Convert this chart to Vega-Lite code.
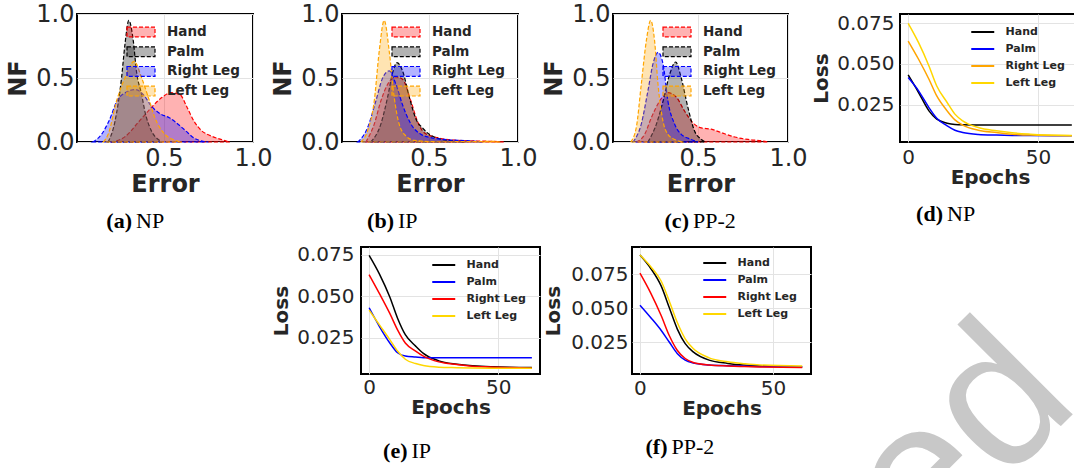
{
  "$schema": "https://vega.github.io/schema/vega-lite/v6.json",
  "background": "white",
  "padding": {"left": 5, "top": 1, "right": 0, "bottom": 0},
  "datasets": {
    "da": [
      {"part": "Hand", "err": 0.20, "nf": 0}, {"part": "Hand", "err": 0.28, "nf": 0.04}, {"part": "Hand", "err": 0.36, "nf": 0.16}, {"part": "Hand", "err": 0.43, "nf": 0.27}, {"part": "Hand", "err": 0.49, "nf": 0.35}, {"part": "Hand", "err": 0.54, "nf": 0.385}, {"part": "Hand", "err": 0.59, "nf": 0.37}, {"part": "Hand", "err": 0.63, "nf": 0.27}, {"part": "Hand", "err": 0.67, "nf": 0.16}, {"part": "Hand", "err": 0.71, "nf": 0.09}, {"part": "Hand", "err": 0.76, "nf": 0.05}, {"part": "Hand", "err": 0.82, "nf": 0.02}, {"part": "Hand", "err": 0.87, "nf": 0},
      {"part": "Palm", "err": 0.187, "nf": 0}, {"part": "Palm", "err": 0.225, "nf": 0.16}, {"part": "Palm", "err": 0.262, "nf": 0.5}, {"part": "Palm", "err": 0.281, "nf": 0.76}, {"part": "Palm", "err": 0.303, "nf": 0.95}, {"part": "Palm", "err": 0.328, "nf": 0.79}, {"part": "Palm", "err": 0.346, "nf": 0.55}, {"part": "Palm", "err": 0.375, "nf": 0.37}, {"part": "Palm", "err": 0.393, "nf": 0.24}, {"part": "Palm", "err": 0.43, "nf": 0.086}, {"part": "Palm", "err": 0.468, "nf": 0.02}, {"part": "Palm", "err": 0.49, "nf": 0},
      {"part": "Right Leg", "err": 0.10, "nf": 0}, {"part": "Right Leg", "err": 0.15, "nf": 0.06}, {"part": "Right Leg", "err": 0.19, "nf": 0.16}, {"part": "Right Leg", "err": 0.24, "nf": 0.33}, {"part": "Right Leg", "err": 0.29, "nf": 0.39}, {"part": "Right Leg", "err": 0.34, "nf": 0.41}, {"part": "Right Leg", "err": 0.39, "nf": 0.36}, {"part": "Right Leg", "err": 0.43, "nf": 0.28}, {"part": "Right Leg", "err": 0.48, "nf": 0.22}, {"part": "Right Leg", "err": 0.53, "nf": 0.19}, {"part": "Right Leg", "err": 0.57, "nf": 0.15}, {"part": "Right Leg", "err": 0.62, "nf": 0.09}, {"part": "Right Leg", "err": 0.67, "nf": 0.03}, {"part": "Right Leg", "err": 0.72, "nf": 0.005}, {"part": "Right Leg", "err": 0.75, "nf": 0},
      {"part": "Left Leg", "err": 0.16, "nf": 0}, {"part": "Left Leg", "err": 0.187, "nf": 0.06}, {"part": "Left Leg", "err": 0.234, "nf": 0.32}, {"part": "Left Leg", "err": 0.281, "nf": 0.5}, {"part": "Left Leg", "err": 0.333, "nf": 0.63}, {"part": "Left Leg", "err": 0.375, "nf": 0.5}, {"part": "Left Leg", "err": 0.412, "nf": 0.35}, {"part": "Left Leg", "err": 0.449, "nf": 0.19}, {"part": "Left Leg", "err": 0.506, "nf": 0.06}, {"part": "Left Leg", "err": 0.562, "nf": 0.013}, {"part": "Left Leg", "err": 0.60, "nf": 0}
    ],
    "db": [
      {"part": "Hand", "err": 0.146, "nf": 0}, {"part": "Hand", "err": 0.193, "nf": 0.14}, {"part": "Hand", "err": 0.23, "nf": 0.32}, {"part": "Hand", "err": 0.268, "nf": 0.45}, {"part": "Hand", "err": 0.315, "nf": 0.51}, {"part": "Hand", "err": 0.352, "nf": 0.49}, {"part": "Hand", "err": 0.399, "nf": 0.32}, {"part": "Hand", "err": 0.436, "nf": 0.16}, {"part": "Hand", "err": 0.474, "nf": 0.073}, {"part": "Hand", "err": 0.549, "nf": 0.034}, {"part": "Hand", "err": 0.661, "nf": 0.013}, {"part": "Hand", "err": 0.773, "nf": 0.008}, {"part": "Hand", "err": 0.886, "nf": 0.003}, {"part": "Hand", "err": 0.92, "nf": 0},
      {"part": "Palm", "err": 0.174, "nf": 0}, {"part": "Palm", "err": 0.23, "nf": 0.14}, {"part": "Palm", "err": 0.268, "nf": 0.35}, {"part": "Palm", "err": 0.296, "nf": 0.54}, {"part": "Palm", "err": 0.32, "nf": 0.62}, {"part": "Palm", "err": 0.352, "nf": 0.555}, {"part": "Palm", "err": 0.39, "nf": 0.35}, {"part": "Palm", "err": 0.427, "nf": 0.18}, {"part": "Palm", "err": 0.464, "nf": 0.11}, {"part": "Palm", "err": 0.502, "nf": 0.06}, {"part": "Palm", "err": 0.549, "nf": 0.029}, {"part": "Palm", "err": 0.642, "nf": 0.008}, {"part": "Palm", "err": 0.70, "nf": 0},
      {"part": "Right Leg", "err": 0.10, "nf": 0}, {"part": "Right Leg", "err": 0.155, "nf": 0.11}, {"part": "Right Leg", "err": 0.202, "nf": 0.32}, {"part": "Right Leg", "err": 0.24, "nf": 0.5}, {"part": "Right Leg", "err": 0.277, "nf": 0.555}, {"part": "Right Leg", "err": 0.315, "nf": 0.45}, {"part": "Right Leg", "err": 0.352, "nf": 0.29}, {"part": "Right Leg", "err": 0.399, "nf": 0.14}, {"part": "Right Leg", "err": 0.455, "nf": 0.06}, {"part": "Right Leg", "err": 0.511, "nf": 0.034}, {"part": "Right Leg", "err": 0.586, "nf": 0.02}, {"part": "Right Leg", "err": 0.736, "nf": 0.008}, {"part": "Right Leg", "err": 0.80, "nf": 0},
      {"part": "Left Leg", "err": 0.118, "nf": 0}, {"part": "Left Leg", "err": 0.155, "nf": 0.086}, {"part": "Left Leg", "err": 0.193, "nf": 0.32}, {"part": "Left Leg", "err": 0.221, "nf": 0.71}, {"part": "Left Leg", "err": 0.249, "nf": 0.95}, {"part": "Left Leg", "err": 0.277, "nf": 0.71}, {"part": "Left Leg", "err": 0.305, "nf": 0.35}, {"part": "Left Leg", "err": 0.333, "nf": 0.14}, {"part": "Left Leg", "err": 0.371, "nf": 0.047}, {"part": "Left Leg", "err": 0.418, "nf": 0.013}, {"part": "Left Leg", "err": 0.55, "nf": 0.002}, {"part": "Left Leg", "err": 0.80, "nf": 0.003}, {"part": "Left Leg", "err": 0.85, "nf": 0.006}, {"part": "Left Leg", "err": 0.90, "nf": 0}
    ],
    "dc": [
      {"part": "Hand", "err": 0.157, "nf": 0}, {"part": "Hand", "err": 0.204, "nf": 0.06}, {"part": "Hand", "err": 0.241, "nf": 0.19}, {"part": "Hand", "err": 0.287, "nf": 0.32}, {"part": "Hand", "err": 0.333, "nf": 0.385}, {"part": "Hand", "err": 0.38, "nf": 0.35}, {"part": "Hand", "err": 0.426, "nf": 0.24}, {"part": "Hand", "err": 0.472, "nf": 0.15}, {"part": "Hand", "err": 0.519, "nf": 0.11}, {"part": "Hand", "err": 0.574, "nf": 0.10}, {"part": "Hand", "err": 0.63, "nf": 0.073}, {"part": "Hand", "err": 0.704, "nf": 0.039}, {"part": "Hand", "err": 0.778, "nf": 0.02}, {"part": "Hand", "err": 0.861, "nf": 0.008}, {"part": "Hand", "err": 0.89, "nf": 0},
      {"part": "Palm", "err": 0.222, "nf": 0}, {"part": "Palm", "err": 0.269, "nf": 0.14}, {"part": "Palm", "err": 0.306, "nf": 0.32}, {"part": "Palm", "err": 0.343, "nf": 0.53}, {"part": "Palm", "err": 0.376, "nf": 0.625}, {"part": "Palm", "err": 0.407, "nf": 0.5}, {"part": "Palm", "err": 0.444, "nf": 0.27}, {"part": "Palm", "err": 0.481, "nf": 0.086}, {"part": "Palm", "err": 0.519, "nf": 0.02}, {"part": "Palm", "err": 0.54, "nf": 0},
      {"part": "Right Leg", "err": 0.139, "nf": 0}, {"part": "Right Leg", "err": 0.185, "nf": 0.14}, {"part": "Right Leg", "err": 0.222, "nf": 0.4}, {"part": "Right Leg", "err": 0.25, "nf": 0.61}, {"part": "Right Leg", "err": 0.278, "nf": 0.7}, {"part": "Right Leg", "err": 0.306, "nf": 0.61}, {"part": "Right Leg", "err": 0.333, "nf": 0.32}, {"part": "Right Leg", "err": 0.37, "nf": 0.14}, {"part": "Right Leg", "err": 0.407, "nf": 0.06}, {"part": "Right Leg", "err": 0.463, "nf": 0.02}, {"part": "Right Leg", "err": 0.50, "nf": 0},
      {"part": "Left Leg", "err": 0.126, "nf": 0}, {"part": "Left Leg", "err": 0.157, "nf": 0.11}, {"part": "Left Leg", "err": 0.185, "nf": 0.45}, {"part": "Left Leg", "err": 0.213, "nf": 0.79}, {"part": "Left Leg", "err": 0.237, "nf": 0.95}, {"part": "Left Leg", "err": 0.259, "nf": 0.79}, {"part": "Left Leg", "err": 0.278, "nf": 0.45}, {"part": "Left Leg", "err": 0.306, "nf": 0.16}, {"part": "Left Leg", "err": 0.333, "nf": 0.06}, {"part": "Left Leg", "err": 0.37, "nf": 0.02}, {"part": "Left Leg", "err": 0.42, "nf": 0}
    ],
    "ld": [
      {"part": "Hand", "ep": 0, "loss": 0.0433}, {"part": "Hand", "ep": 4, "loss": 0.0326}, {"part": "Hand", "ep": 8, "loss": 0.0214}, {"part": "Hand", "ep": 11, "loss": 0.0163}, {"part": "Hand", "ep": 15, "loss": 0.0139}, {"part": "Hand", "ep": 18, "loss": 0.0131}, {"part": "Hand", "ep": 21, "loss": 0.0129}, {"part": "Hand", "ep": 27, "loss": 0.0128}, {"part": "Hand", "ep": 34, "loss": 0.0127}, {"part": "Hand", "ep": 40, "loss": 0.0127}, {"part": "Hand", "ep": 47, "loss": 0.0127}, {"part": "Hand", "ep": 63, "loss": 0.0127},
      {"part": "Palm", "ep": 0, "loss": 0.0417}, {"part": "Palm", "ep": 4, "loss": 0.0336}, {"part": "Palm", "ep": 8, "loss": 0.0234}, {"part": "Palm", "ep": 11, "loss": 0.0169}, {"part": "Palm", "ep": 15, "loss": 0.0123}, {"part": "Palm", "ep": 18, "loss": 0.0096}, {"part": "Palm", "ep": 21, "loss": 0.0082}, {"part": "Palm", "ep": 27, "loss": 0.0070}, {"part": "Palm", "ep": 34, "loss": 0.0066}, {"part": "Palm", "ep": 40, "loss": 0.0064}, {"part": "Palm", "ep": 47, "loss": 0.0063}, {"part": "Palm", "ep": 63, "loss": 0.0062},
      {"part": "Right Leg", "ep": 0, "loss": 0.0640}, {"part": "Right Leg", "ep": 4, "loss": 0.0529}, {"part": "Right Leg", "ep": 8, "loss": 0.0407}, {"part": "Right Leg", "ep": 11, "loss": 0.0305}, {"part": "Right Leg", "ep": 15, "loss": 0.0214}, {"part": "Right Leg", "ep": 18, "loss": 0.0159}, {"part": "Right Leg", "ep": 21, "loss": 0.0127}, {"part": "Right Leg", "ep": 27, "loss": 0.0096}, {"part": "Right Leg", "ep": 34, "loss": 0.0082}, {"part": "Right Leg", "ep": 40, "loss": 0.0072}, {"part": "Right Leg", "ep": 47, "loss": 0.0066}, {"part": "Right Leg", "ep": 63, "loss": 0.0062},
      {"part": "Left Leg", "ep": 0, "loss": 0.0748}, {"part": "Left Leg", "ep": 4, "loss": 0.0630}, {"part": "Left Leg", "ep": 8, "loss": 0.0488}, {"part": "Left Leg", "ep": 11, "loss": 0.0366}, {"part": "Left Leg", "ep": 15, "loss": 0.0265}, {"part": "Left Leg", "ep": 18, "loss": 0.0194}, {"part": "Left Leg", "ep": 21, "loss": 0.0153}, {"part": "Left Leg", "ep": 27, "loss": 0.0112}, {"part": "Left Leg", "ep": 34, "loss": 0.0092}, {"part": "Left Leg", "ep": 40, "loss": 0.0080}, {"part": "Left Leg", "ep": 47, "loss": 0.0072}, {"part": "Left Leg", "ep": 63, "loss": 0.0064}
    ],
    "le": [
      {"part": "Hand", "ep": 0, "loss": 0.0748}, {"part": "Hand", "ep": 4, "loss": 0.0635}, {"part": "Hand", "ep": 8, "loss": 0.0497}, {"part": "Hand", "ep": 11, "loss": 0.0369}, {"part": "Hand", "ep": 14, "loss": 0.0270}, {"part": "Hand", "ep": 18, "loss": 0.0201}, {"part": "Hand", "ep": 21, "loss": 0.0157}, {"part": "Hand", "ep": 27, "loss": 0.0112}, {"part": "Hand", "ep": 34, "loss": 0.0092}, {"part": "Hand", "ep": 40, "loss": 0.0082}, {"part": "Hand", "ep": 47, "loss": 0.0076}, {"part": "Hand", "ep": 63, "loss": 0.0072},
      {"part": "Palm", "ep": 0, "loss": 0.0432}, {"part": "Palm", "ep": 4, "loss": 0.0319}, {"part": "Palm", "ep": 8, "loss": 0.0220}, {"part": "Palm", "ep": 11, "loss": 0.0161}, {"part": "Palm", "ep": 14, "loss": 0.0141}, {"part": "Palm", "ep": 18, "loss": 0.0135}, {"part": "Palm", "ep": 21, "loss": 0.0131}, {"part": "Palm", "ep": 27, "loss": 0.0131}, {"part": "Palm", "ep": 34, "loss": 0.0131}, {"part": "Palm", "ep": 40, "loss": 0.0131}, {"part": "Palm", "ep": 47, "loss": 0.0131}, {"part": "Palm", "ep": 63, "loss": 0.0131},
      {"part": "Right Leg", "ep": 0, "loss": 0.0631}, {"part": "Right Leg", "ep": 4, "loss": 0.0517}, {"part": "Right Leg", "ep": 8, "loss": 0.0398}, {"part": "Right Leg", "ep": 11, "loss": 0.0299}, {"part": "Right Leg", "ep": 14, "loss": 0.0220}, {"part": "Right Leg", "ep": 18, "loss": 0.0171}, {"part": "Right Leg", "ep": 21, "loss": 0.0141}, {"part": "Right Leg", "ep": 27, "loss": 0.0106}, {"part": "Right Leg", "ep": 34, "loss": 0.0090}, {"part": "Right Leg", "ep": 40, "loss": 0.0080}, {"part": "Right Leg", "ep": 47, "loss": 0.0075}, {"part": "Right Leg", "ep": 63, "loss": 0.0068},
      {"part": "Left Leg", "ep": 0, "loss": 0.0418}, {"part": "Left Leg", "ep": 4, "loss": 0.0329}, {"part": "Left Leg", "ep": 8, "loss": 0.0240}, {"part": "Left Leg", "ep": 11, "loss": 0.0171}, {"part": "Left Leg", "ep": 14, "loss": 0.0122}, {"part": "Left Leg", "ep": 18, "loss": 0.0096}, {"part": "Left Leg", "ep": 21, "loss": 0.0084}, {"part": "Left Leg", "ep": 27, "loss": 0.0074}, {"part": "Left Leg", "ep": 34, "loss": 0.0071}, {"part": "Left Leg", "ep": 40, "loss": 0.0069}, {"part": "Left Leg", "ep": 47, "loss": 0.0068}, {"part": "Left Leg", "ep": 63, "loss": 0.0068}
    ],
    "lf": [
      {"part": "Hand", "ep": 0, "loss": 0.0890}, {"part": "Hand", "ep": 4, "loss": 0.0793}, {"part": "Hand", "ep": 8, "loss": 0.0661}, {"part": "Hand", "ep": 11, "loss": 0.0504}, {"part": "Hand", "ep": 14, "loss": 0.0347}, {"part": "Hand", "ep": 17, "loss": 0.0238}, {"part": "Hand", "ep": 20, "loss": 0.0178}, {"part": "Hand", "ep": 26, "loss": 0.0117}, {"part": "Hand", "ep": 33, "loss": 0.0093}, {"part": "Hand", "ep": 39, "loss": 0.0081}, {"part": "Hand", "ep": 45, "loss": 0.0076}, {"part": "Hand", "ep": 61, "loss": 0.0067},
      {"part": "Palm", "ep": 0, "loss": 0.0521}, {"part": "Palm", "ep": 4, "loss": 0.0431}, {"part": "Palm", "ep": 8, "loss": 0.0335}, {"part": "Palm", "ep": 11, "loss": 0.0250}, {"part": "Palm", "ep": 14, "loss": 0.0166}, {"part": "Palm", "ep": 17, "loss": 0.0117}, {"part": "Palm", "ep": 20, "loss": 0.0096}, {"part": "Palm", "ep": 26, "loss": 0.0081}, {"part": "Palm", "ep": 33, "loss": 0.0076}, {"part": "Palm", "ep": 39, "loss": 0.0073}, {"part": "Palm", "ep": 45, "loss": 0.0071}, {"part": "Palm", "ep": 61, "loss": 0.0069},
      {"part": "Right Leg", "ep": 0, "loss": 0.0757}, {"part": "Right Leg", "ep": 4, "loss": 0.0612}, {"part": "Right Leg", "ep": 8, "loss": 0.0443}, {"part": "Right Leg", "ep": 11, "loss": 0.0298}, {"part": "Right Leg", "ep": 14, "loss": 0.0190}, {"part": "Right Leg", "ep": 17, "loss": 0.0129}, {"part": "Right Leg", "ep": 20, "loss": 0.0100}, {"part": "Right Leg", "ep": 26, "loss": 0.0081}, {"part": "Right Leg", "ep": 33, "loss": 0.0074}, {"part": "Right Leg", "ep": 39, "loss": 0.0070}, {"part": "Right Leg", "ep": 45, "loss": 0.0067}, {"part": "Right Leg", "ep": 61, "loss": 0.0062},
      {"part": "Left Leg", "ep": 0, "loss": 0.0890}, {"part": "Left Leg", "ep": 4, "loss": 0.0806}, {"part": "Left Leg", "ep": 8, "loss": 0.0697}, {"part": "Left Leg", "ep": 11, "loss": 0.0552}, {"part": "Left Leg", "ep": 14, "loss": 0.0395}, {"part": "Left Leg", "ep": 17, "loss": 0.0274}, {"part": "Left Leg", "ep": 20, "loss": 0.0202}, {"part": "Left Leg", "ep": 26, "loss": 0.0134}, {"part": "Left Leg", "ep": 33, "loss": 0.0105}, {"part": "Left Leg", "ep": 39, "loss": 0.0091}, {"part": "Left Leg", "ep": 45, "loss": 0.0081}, {"part": "Left Leg", "ep": 61, "loss": 0.0074}
    ],
    "one": [{"k": 1}]
  },
  "vconcat": [
    {
      "hconcat": [
        {
          "width": 176, "height": 128,
          "layer": [
            {
              "data": {"name": "da"},
              "mark": {"type": "area", "interpolate": "monotone", "fillOpacity": 0.3, "strokeOpacity": 1, "strokeDash": [4, 2], "strokeWidth": 1.2},
              "encoding": {
                "x": {"field": "err", "type": "quantitative", "title": "Error", "scale": {"domain": [0.012, 1.0], "nice": false, "zero": false}, "axis": {"values": [0.5, 1.0], "format": ".1f", "labelFontSize": 24, "titleFontSize": 24, "labelPadding": 4, "titlePadding": 2}},
                "y": {"field": "nf", "type": "quantitative", "title": "NF", "stack": null, "scale": {"domain": [0, 1], "nice": false}, "axis": {"values": [0, 0.5, 1.0], "format": ".1f", "labelFontSize": 24, "titleFontSize": 24, "labelPadding": 3, "titlePadding": 5}},
                "fill": {"field": "part", "type": "nominal", "scale": {"domain": ["Hand", "Palm", "Right Leg", "Left Leg"], "range": ["#ff0000", "#000000", "#0000ff", "#ffa500"]}, "legend": {"orient": "none", "legendX": 56, "legendY": 10, "title": null, "symbolType": "M-2,-0.7H2V0.7H-2Z", "symbolSize": 196, "symbolDash": [4, 2], "symbolStrokeWidth": 1.2, "labelFontSize": 13.5, "labelFontWeight": "bold", "labelFont": "DejaVu Sans", "labelColor": "#262626", "rowPadding": 3.7, "labelOffset": 18, "padding": 0, "encoding": {"symbols": {"fillOpacity": {"value": 0.3}, "strokeOpacity": {"value": 1}}}}},
                "stroke": {"field": "part", "type": "nominal", "scale": {"domain": ["Hand", "Palm", "Right Leg", "Left Leg"], "range": ["#ff0000", "#000000", "#0000ff", "#ffa500"]}, "legend": {"orient": "none", "legendX": 56, "legendY": 10, "title": null, "symbolType": "M-2,-0.7H2V0.7H-2Z", "symbolSize": 196, "symbolDash": [4, 2], "symbolStrokeWidth": 1.2, "labelFontSize": 13.5, "labelFontWeight": "bold", "labelFont": "DejaVu Sans", "labelColor": "#262626", "rowPadding": 3.7, "labelOffset": 18, "padding": 0, "encoding": {"symbols": {"fillOpacity": {"value": 0.3}, "strokeOpacity": {"value": 1}}}}}
              }
            },
            {
              "data": {"name": "one"},
              "mark": {"type": "text", "text": "(a)", "font": "Liberation Serif", "fontSize": 22, "fontWeight": "bold", "align": "right", "baseline": "alphabetic", "dx": -2, "color": "black"},
              "encoding": {"x": {"datum": 0.332}, "y": {"datum": -0.672}}
            },
            {
              "data": {"name": "one"},
              "mark": {"type": "text", "text": "NP", "font": "Liberation Serif", "fontSize": 22, "align": "left", "baseline": "alphabetic", "dx": 2, "color": "black"},
              "encoding": {"x": {"datum": 0.332}, "y": {"datum": -0.672}}
            }
          ]
        },
        {
          "hconcat": [
            {
              "width": 176, "height": 128,
              "layer": [
                {
                  "data": {"name": "db"},
                  "mark": {"type": "area", "interpolate": "monotone", "fillOpacity": 0.3, "strokeOpacity": 1, "strokeDash": [4, 2], "strokeWidth": 1.2},
                  "encoding": {
                    "x": {"field": "err", "type": "quantitative", "title": "Error", "scale": {"domain": [0.012, 1.0], "nice": false, "zero": false}, "axis": {"values": [0.5, 1.0], "format": ".1f", "labelFontSize": 24, "titleFontSize": 24, "labelPadding": 4, "titlePadding": 2}},
                    "y": {"field": "nf", "type": "quantitative", "title": "NF", "stack": null, "scale": {"domain": [0, 1], "nice": false}, "axis": {"values": [0, 0.5, 1.0], "format": ".1f", "labelFontSize": 24, "titleFontSize": 24, "labelPadding": 3, "titlePadding": 5}},
                    "fill": {"field": "part", "type": "nominal", "scale": {"domain": ["Hand", "Palm", "Right Leg", "Left Leg"], "range": ["#ff0000", "#000000", "#0000ff", "#ffa500"]}, "legend": {"orient": "none", "legendX": 56, "legendY": 10, "title": null, "symbolType": "M-2,-0.7H2V0.7H-2Z", "symbolSize": 196, "symbolDash": [4, 2], "symbolStrokeWidth": 1.2, "labelFontSize": 13.5, "labelFontWeight": "bold", "labelFont": "DejaVu Sans", "labelColor": "#262626", "rowPadding": 3.7, "labelOffset": 18, "padding": 0, "encoding": {"symbols": {"fillOpacity": {"value": 0.3}, "strokeOpacity": {"value": 1}}}}},
                    "stroke": {"field": "part", "type": "nominal", "scale": {"domain": ["Hand", "Palm", "Right Leg", "Left Leg"], "range": ["#ff0000", "#000000", "#0000ff", "#ffa500"]}, "legend": {"orient": "none", "legendX": 56, "legendY": 10, "title": null, "symbolType": "M-2,-0.7H2V0.7H-2Z", "symbolSize": 196, "symbolDash": [4, 2], "symbolStrokeWidth": 1.2, "labelFontSize": 13.5, "labelFontWeight": "bold", "labelFont": "DejaVu Sans", "labelColor": "#262626", "rowPadding": 3.7, "labelOffset": 18, "padding": 0, "encoding": {"symbols": {"fillOpacity": {"value": 0.3}, "strokeOpacity": {"value": 1}}}}}
                  }
                },
                {
                  "data": {"name": "one"},
                  "mark": {"type": "text", "text": "(b)", "font": "Liberation Serif", "fontSize": 22, "fontWeight": "bold", "align": "right", "baseline": "alphabetic", "dx": -2, "color": "black"},
                  "encoding": {"x": {"datum": 0.315}, "y": {"datum": -0.672}}
                },
                {
                  "data": {"name": "one"},
                  "mark": {"type": "text", "text": "IP", "font": "Liberation Serif", "fontSize": 22, "align": "left", "baseline": "alphabetic", "dx": 2, "color": "black"},
                  "encoding": {"x": {"datum": 0.315}, "y": {"datum": -0.672}}
                }
              ]
            },
            {
              "hconcat": [
                {
                  "width": 175, "height": 128,
                  "layer": [
                    {
                      "data": {"name": "dc"},
                      "mark": {"type": "area", "interpolate": "monotone", "fillOpacity": 0.3, "strokeOpacity": 1, "strokeDash": [4, 2], "strokeWidth": 1.2},
                      "encoding": {
                        "x": {"field": "err", "type": "quantitative", "title": "Error", "scale": {"domain": [0.028, 1.0], "nice": false, "zero": false}, "axis": {"values": [0.5, 1.0], "format": ".1f", "labelFontSize": 24, "titleFontSize": 24, "labelPadding": 4, "titlePadding": 2}},
                        "y": {"field": "nf", "type": "quantitative", "title": "NF", "stack": null, "scale": {"domain": [0, 1], "nice": false}, "axis": {"values": [0, 0.5, 1.0], "format": ".1f", "labelFontSize": 24, "titleFontSize": 24, "labelPadding": 3, "titlePadding": 5}},
                        "fill": {"field": "part", "type": "nominal", "scale": {"domain": ["Hand", "Palm", "Right Leg", "Left Leg"], "range": ["#ff0000", "#000000", "#0000ff", "#ffa500"]}, "legend": {"orient": "none", "legendX": 56, "legendY": 10, "title": null, "symbolType": "M-2,-0.7H2V0.7H-2Z", "symbolSize": 196, "symbolDash": [4, 2], "symbolStrokeWidth": 1.2, "labelFontSize": 13.5, "labelFontWeight": "bold", "labelFont": "DejaVu Sans", "labelColor": "#262626", "rowPadding": 3.7, "labelOffset": 18, "padding": 0, "encoding": {"symbols": {"fillOpacity": {"value": 0.3}, "strokeOpacity": {"value": 1}}}}},
                        "stroke": {"field": "part", "type": "nominal", "scale": {"domain": ["Hand", "Palm", "Right Leg", "Left Leg"], "range": ["#ff0000", "#000000", "#0000ff", "#ffa500"]}, "legend": {"orient": "none", "legendX": 56, "legendY": 10, "title": null, "symbolType": "M-2,-0.7H2V0.7H-2Z", "symbolSize": 196, "symbolDash": [4, 2], "symbolStrokeWidth": 1.2, "labelFontSize": 13.5, "labelFontWeight": "bold", "labelFont": "DejaVu Sans", "labelColor": "#262626", "rowPadding": 3.7, "labelOffset": 18, "padding": 0, "encoding": {"symbols": {"fillOpacity": {"value": 0.3}, "strokeOpacity": {"value": 1}}}}}
                      }
                    },
                    {
                      "data": {"name": "one"},
                      "mark": {"type": "text", "text": "(c)", "font": "Liberation Serif", "fontSize": 22, "fontWeight": "bold", "align": "right", "baseline": "alphabetic", "dx": -2, "color": "black"},
                      "encoding": {"x": {"datum": 0.461}, "y": {"datum": -0.672}}
                    },
                    {
                      "data": {"name": "one"},
                      "mark": {"type": "text", "text": "PP-2", "font": "Liberation Serif", "fontSize": 22, "align": "left", "baseline": "alphabetic", "dx": 2, "color": "black"},
                      "encoding": {"x": {"datum": 0.461}, "y": {"datum": -0.672}}
                    }
                  ]
                },
                {
                  "width": 180, "height": 128,
                  "layer": [
                    {
                      "data": {"name": "ld"},
                      "mark": {"type": "line", "interpolate": "monotone", "strokeWidth": 1.5},
                      "encoding": {
                        "x": {"field": "ep", "type": "quantitative", "title": "Epochs", "scale": {"domain": [-3.15, 66.15], "nice": false, "zero": false}, "axis": {"values": [0, 50], "labelFontSize": 20, "titleFontSize": 20, "labelPadding": 5, "titlePadding": 0}},
                        "y": {"field": "loss", "type": "quantitative", "title": "Loss", "scale": {"domain": [0.0024, 0.0805], "nice": false, "zero": false}, "axis": {"values": [0.025, 0.05, 0.075], "format": ".3f", "labelFontSize": 20, "titleFontSize": 20, "labelPadding": 6, "titlePadding": 5}},
                        "color": {"field": "part", "type": "nominal", "scale": {"domain": ["Hand", "Palm", "Right Leg", "Left Leg"], "range": ["#000000", "#0000ff", "#ffa500", "#ffd700"]}, "legend": {"orient": "none", "legendX": 75.75, "legendY": 11, "title": null, "symbolType": "M-2,0H2", "symbolSize": 132, "symbolStrokeWidth": 2, "labelFontSize": 11, "labelFontWeight": "bold", "labelFont": "DejaVu Sans", "labelColor": "#262626", "rowPadding": 5, "labelOffset": 15.75, "padding": 0}}
                      }
                    },
                    {
                      "data": {"name": "one"},
                      "mark": {"type": "text", "text": "(d)", "font": "Liberation Serif", "fontSize": 22, "fontWeight": "bold", "align": "right", "baseline": "alphabetic", "dx": -2, "color": "black"},
                      "encoding": {"x": {"datum": 14.18}, "y": {"datum": -0.0458}}
                    },
                    {
                      "data": {"name": "one"},
                      "mark": {"type": "text", "text": "NP", "font": "Liberation Serif", "fontSize": 22, "align": "left", "baseline": "alphabetic", "dx": 2, "color": "black"},
                      "encoding": {"x": {"datum": 14.18}, "y": {"datum": -0.0458}}
                    }
                  ]
                }
              ],
              "spacing": 112, "bounds": "flush",
              "resolve": {"scale": {"fill": "independent", "stroke": "independent", "color": "independent"}, "legend": {"fill": "independent", "stroke": "independent", "color": "independent"}}
            }
          ],
          "spacing": 95, "bounds": "flush",
          "resolve": {"scale": {"fill": "independent", "stroke": "independent", "color": "independent"}, "legend": {"fill": "independent", "stroke": "independent", "color": "independent"}}
        }
      ],
      "spacing": 89, "bounds": "flush",
      "resolve": {"scale": {"fill": "independent", "stroke": "independent", "color": "independent"}, "legend": {"fill": "independent", "stroke": "independent", "color": "independent"}}
    },
    {
      "hconcat": [
        {
          "width": 192, "height": 127,
          "data": {"name": "one"},
          "mark": {"type": "point", "opacity": 0},
          "view": {"stroke": null}
        },
        {
          "width": 179, "height": 127,
          "layer": [
            {
              "data": {"name": "le"},
              "mark": {"type": "line", "interpolate": "monotone", "strokeWidth": 1.5},
              "encoding": {
                "x": {"field": "ep", "type": "quantitative", "title": "Epochs", "scale": {"domain": [-3.15, 66.15], "nice": false, "zero": false}, "axis": {"values": [0, 50], "labelFontSize": 20, "titleFontSize": 20, "labelPadding": 3, "titlePadding": 0}},
                "y": {"field": "loss", "type": "quantitative", "title": "Loss", "scale": {"domain": [0.0033, 0.0798], "nice": false, "zero": false}, "axis": {"values": [0.025, 0.05, 0.075], "format": ".3f", "labelFontSize": 20, "titleFontSize": 20, "labelPadding": 7, "titlePadding": 5}},
                "color": {"field": "part", "type": "nominal", "scale": {"domain": ["Hand", "Palm", "Right Leg", "Left Leg"], "range": ["#000000", "#0000ff", "#ff0000", "#ffd700"]}, "legend": {"orient": "none", "legendX": 75.75, "legendY": 11, "title": null, "symbolType": "M-2,0H2", "symbolSize": 132, "symbolStrokeWidth": 2, "labelFontSize": 11, "labelFontWeight": "bold", "labelFont": "DejaVu Sans", "labelColor": "#262626", "rowPadding": 5, "labelOffset": 15.75, "padding": 0}}
              }
            },
            {
              "data": {"name": "one"},
              "mark": {"type": "text", "text": "(e)", "font": "Liberation Serif", "fontSize": 22, "fontWeight": "bold", "align": "right", "baseline": "alphabetic", "dx": -2, "color": "black"},
              "encoding": {"x": {"datum": 15.63}, "y": {"datum": -0.0473}}
            },
            {
              "data": {"name": "one"},
              "mark": {"type": "text", "text": "IP", "font": "Liberation Serif", "fontSize": 22, "align": "left", "baseline": "alphabetic", "dx": 2, "color": "black"},
              "encoding": {"x": {"datum": 15.63}, "y": {"datum": -0.0473}}
            }
          ]
        },
        {
          "width": 179, "height": 127,
          "layer": [
            {
              "data": {"name": "lf"},
              "mark": {"type": "line", "interpolate": "monotone", "strokeWidth": 1.5},
              "encoding": {
                "x": {"field": "ep", "type": "quantitative", "title": "Epochs", "scale": {"domain": [-3.0, 64.3], "nice": false, "zero": false}, "axis": {"values": [0, 50], "labelFontSize": 20, "titleFontSize": 20, "labelPadding": 4, "titlePadding": 0}},
                "y": {"field": "loss", "type": "quantitative", "title": "Loss", "scale": {"domain": [0.0015, 0.0949], "nice": false, "zero": false}, "axis": {"values": [0.025, 0.05, 0.075], "format": ".3f", "labelFontSize": 20, "titleFontSize": 20, "labelPadding": 4, "titlePadding": 7}},
                "color": {"field": "part", "type": "nominal", "scale": {"domain": ["Hand", "Palm", "Right Leg", "Left Leg"], "range": ["#000000", "#0000ff", "#ff0000", "#ffd700"]}, "legend": {"orient": "none", "legendX": 75.75, "legendY": 9, "title": null, "symbolType": "M-2,0H2", "symbolSize": 132, "symbolStrokeWidth": 2, "labelFontSize": 11, "labelFontWeight": "bold", "labelFont": "DejaVu Sans", "labelColor": "#262626", "rowPadding": 5, "labelOffset": 15.75, "padding": 0}}
              }
            },
            {
              "data": {"name": "one"},
              "mark": {"type": "text", "text": "(f)", "font": "Liberation Serif", "fontSize": 22, "fontWeight": "bold", "align": "right", "baseline": "alphabetic", "dx": -2, "color": "black"},
              "encoding": {"x": {"datum": 11.1}, "y": {"datum": -0.0573}}
            },
            {
              "data": {"name": "one"},
              "mark": {"type": "text", "text": "PP-2", "font": "Liberation Serif", "fontSize": 22, "align": "left", "baseline": "alphabetic", "dx": 2, "color": "black"},
              "encoding": {"x": {"datum": 11.1}, "y": {"datum": -0.0573}}
            },
            {
              "data": {"name": "one"},
              "mark": {"type": "text", "text": "ed", "font": "Liberation Sans", "fontSize": 200, "angle": 315, "align": "right", "baseline": "alphabetic", "color": "#c8c8c8"},
              "encoding": {"x": {"datum": 166.2}, "y": {"datum": -0.0213}}
            }
          ]
        }
      ],
      "spacing": 92, "bounds": "flush",
      "resolve": {"scale": {"fill": "independent", "stroke": "independent", "color": "independent"}, "legend": {"fill": "independent", "stroke": "independent", "color": "independent"}}
    }
  ],
  "spacing": 233,
  "bounds": "flush",
  "resolve": {"scale": {"fill": "independent", "stroke": "independent", "color": "independent"}, "legend": {"fill": "independent", "stroke": "independent", "color": "independent"}},
  "config": {
    "view": {"stroke": "black", "strokeWidth": 2},
    "axis": {"grid": true, "gridColor": "#e3e3e3", "gridWidth": 1, "domain": false, "ticks": false, "labelFont": "DejaVu Sans", "titleFont": "DejaVu Sans", "labelColor": "#262626", "titleColor": "#262626", "titleFontWeight": "bold", "labelFlush": false, "labelOverlap": false}
  }
}
